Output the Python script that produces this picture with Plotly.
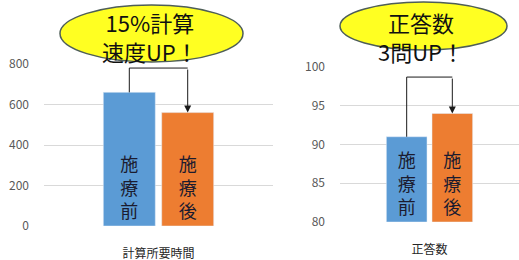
import plotly.graph_objects as go

# ---- data ----
left_category = ["計算所要時間"]
left_before = [660]
left_after = [560]
left_ticks = [0, 200, 400, 600, 800]

right_category = ["正答数"]
right_before = [91]
right_after = [94]
right_ticks = [80, 85, 90, 95, 100]

bar_text_before = "施<br>療<br>前"
bar_text_after = "施<br>療<br>後"
left_callout = "15%計算<br>速度UP！"
right_callout = "正答数<br>3問UP！"

# ---- style ----
W, H = 519, 260
BLUE = "#5B9BD5"
ORANGE = "#ED7D31"
GRID = "#D9D9D9"
TICK = "#595959"
FONT = "Noto Sans CJK JP"
BARGAP = 0.49
GROUPGAP = 0.11
off = (1 - BARGAP) / 4  # bar-centre offset from category centre
LEFT_BASE = left_ticks[0]
RIGHT_BASE = right_ticks[0]


def px_x(p):
    return p / W


def px_y(p):
    return 1 - p / H


fig = go.Figure()

bar_common = dict(textposition="inside", insidetextanchor="start",
                  textfont=dict(size=18, color="#1B1B2F", family=FONT),
                  hoverinfo="skip")


def add_bars(cat, vals, base, color, text, xa, ya):
    fig.add_trace(go.Bar(x=cat, y=[v - base for v in vals], base=base,
                         marker_color=color, text=[text],
                         xaxis=xa, yaxis=ya, **bar_common))


add_bars(left_category, left_before, LEFT_BASE, BLUE, bar_text_before, "x", "y")
add_bars(left_category, left_after, LEFT_BASE, ORANGE, bar_text_after, "x", "y")
add_bars(right_category, right_before, RIGHT_BASE, BLUE, bar_text_before, "x2", "y2")
add_bars(right_category, right_after, RIGHT_BASE, ORANGE, bar_text_after, "x2", "y2")

yaxis_common = dict(showgrid=True, gridcolor=GRID, gridwidth=1, zeroline=False,
                    showline=False, ticks="", tickfont=dict(size=12, color=TICK, family=FONT),
                    ticklabelstandoff=14, fixedrange=True, automargin=False)
xaxis_common = dict(showgrid=False, showline=False, ticks="", zeroline=False,
                    tickfont=dict(size=12, color="#262626", family=FONT),
                    ticklabelstandoff=19, fixedrange=True, automargin=False)

fig.update_layout(
    width=W, height=H,
    margin=dict(l=0, r=0, t=0, b=0, pad=0, autoexpand=False),
    paper_bgcolor="white", plot_bgcolor="white",
    showlegend=False,
    barmode="group", bargap=BARGAP, bargroupgap=GROUPGAP,
    font=dict(family=FONT),
    xaxis=dict(domain=[px_x(44), px_x(273)], anchor="y", **xaxis_common),
    yaxis=dict(domain=[px_y(226), px_y(64)], range=[0, 800], tickvals=left_ticks,
               anchor="x", **yaxis_common),
    xaxis2=dict(domain=[px_x(340), 1.0], anchor="y2", **xaxis_common),
    yaxis2=dict(domain=[px_y(222), px_y(67)], range=[80, 100], tickvals=right_ticks,
                anchor="x2", **yaxis_common),
)

# ---- bracket arrows ----
def bracket(xref, yref, y_from, y_to, y_top):
    line = dict(color="#1a1a1a", width=1)
    fig.add_shape(type="line", xref=xref, yref=yref, x0=-off, x1=-off,
                  y0=y_from, y1=y_top, line=line)
    fig.add_shape(type="line", xref=xref, yref=yref, x0=-off, x1=off,
                  y0=y_top, y1=y_top, line=line)
    fig.add_annotation(xref=xref, yref=yref, axref=xref, ayref=yref,
                       x=off, y=y_to, ax=off, ay=y_top, text="",
                       showarrow=True, arrowhead=2, arrowsize=1.4,
                       arrowwidth=1, arrowcolor="#1a1a1a", standoff=0)


bracket("x", "y", left_before[0], left_after[0], 780)
bracket("x2", "y2", right_before[0], right_after[0], 98.7)

# ---- callout ellipses ----
ELL_FILL = "#FFFF22"
ELL_LINE = "#4E5E58"
fig.add_shape(type="circle", xref="paper", yref="paper",
              x0=px_x(60), x1=px_x(243), y0=px_y(62), y1=px_y(5),
              fillcolor=ELL_FILL, line=dict(color=ELL_LINE, width=1.5), layer="above")
fig.add_shape(type="circle", xref="paper", yref="paper",
              x0=px_x(340), x1=px_x(507), y0=px_y(50), y1=px_y(2),
              fillcolor=ELL_FILL, line=dict(color=ELL_LINE, width=1.5), layer="above")

fig.add_annotation(xref="paper", yref="paper", x=px_x(150), y=px_y(37),
                   xanchor="center", yanchor="middle",
                   text=left_callout, showarrow=False,
                   font=dict(size=22, color="#111111", family=FONT))
fig.add_annotation(xref="paper", yref="paper", x=px_x(421), y=px_y(37),
                   xanchor="center", yanchor="middle",
                   text=right_callout, showarrow=False,
                   font=dict(size=22, color="#111111", family=FONT))

fig.write_html("out.html", config={"displayModeBar": False},
               post_script="document.body.style.margin='0';")
